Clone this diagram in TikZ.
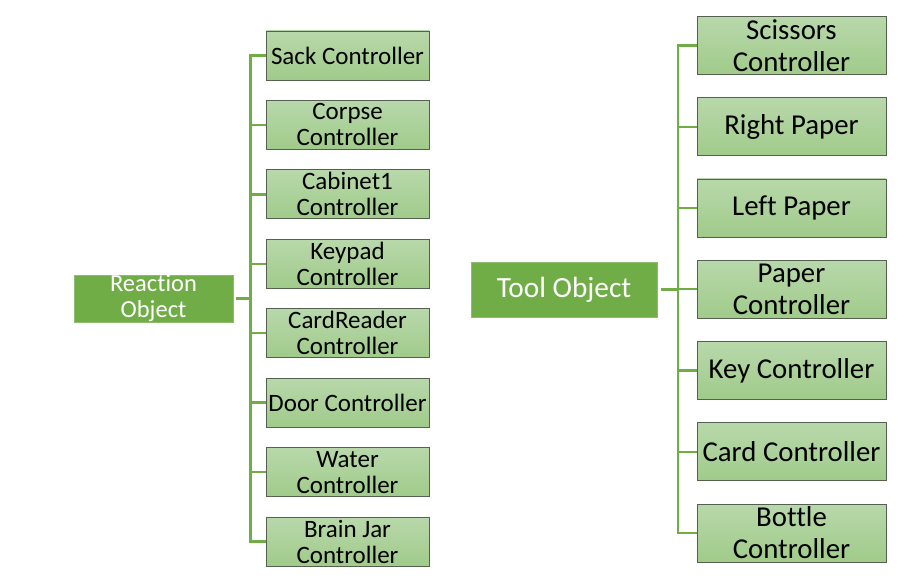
\documentclass[tikz,border=0pt]{standalone}
\usepackage{fontspec}
\setmainfont{Carlito}[Ligatures=NoCommon]
\definecolor{rootgreen}{HTML}{70AD47}
\definecolor{linegreen}{HTML}{70AD47}
\definecolor{boxtop}{HTML}{B8D8AB}
\definecolor{boxbot}{HTML}{A0CB8A}
\definecolor{boxedge}{HTML}{55604F}
\begin{document}
\begin{tikzpicture}[x=1pt,y=-1pt,
  rootbox/.style={fill=rootgreen,draw=rootgreen!80!white,line width=0.8pt,text=white,align=center,inner sep=0pt},
  leafL/.style={top color=boxtop,bottom color=boxbot,draw=boxedge,line width=0.9pt,minimum width=163pt,minimum height=49pt,align=center,inner sep=0pt,font=\fontsize{25}{26}\selectfont},
  leafR/.style={top color=boxtop,bottom color=boxbot,draw=boxedge,line width=0.9pt,minimum width=189pt,minimum height=58pt,align=center,inner sep=0pt,font=\fontsize{28.8}{32}\selectfont},
  conn/.style={draw=linegreen,line width=2.4pt}]
\useasboundingbox (0,0) rectangle (920,585);
% left tree
\node[rootbox,minimum width=159pt,minimum height=47pt,font=\fontsize{24.5}{26}\selectfont] (ro) at (153.5,298.5) {Reaction\\Object};
\node[leafL] (l1) at (347.5,55.5) {Sack Controller};
\node[leafL] (l2) at (347.5,124.9) {Corpse\\Controller};
\node[leafL] (l3) at (347.5,194.4) {Cabinet1\\Controller};
\node[leafL] (l4) at (347.5,263.8) {Keypad\\Controller};
\node[leafL] (l5) at (347.5,333.2) {CardReader\\Controller};
\node[leafL] (l6) at (347.5,402.6) {Door Controller};
\node[leafL] (l7) at (347.5,472.1) {Water\\Controller};
\node[leafL] (l8) at (347.5,541.5) {Brain Jar\\Controller};
\coordinate (tl) at (250.5,298.5);
\draw[conn] ([xshift=3pt]ro.east) -- (tl);
\draw[conn] (l1.west) -| (tl) |- (l8.west);
\foreach \i in {2,...,7}{\draw[conn] (l\i.west) -- (l\i.west -| tl);}
% right tree
\node[rootbox,minimum width=186pt,minimum height=55pt,font=\fontsize{29.3}{31}\selectfont] (to) at (564,289.5) {Tool Object};
\node[leafR] (r1) at (791.5,45.5) {Scissors\\Controller};
\node[leafR] (r2) at (791.5,126.75) {Right Paper};
\node[leafR] (r3) at (791.5,208) {Left Paper};
\node[leafR] (r4) at (791.5,289.25) {Paper\\Controller};
\node[leafR] (r5) at (791.5,370.5) {Key Controller};
\node[leafR] (r6) at (791.5,451.75) {Card Controller};
\node[leafR] (r7) at (791.5,533) {Bottle\\Controller};
\coordinate (tr) at (678,289.5);
\draw[conn] ([xshift=4pt]to.east) -- (tr);
\draw[conn] (r1.west) -| (tr) |- (r7.west);
\foreach \i in {2,...,6}{\draw[conn] (r\i.west) -- (r\i.west -| tr);}
\end{tikzpicture}
\end{document}
